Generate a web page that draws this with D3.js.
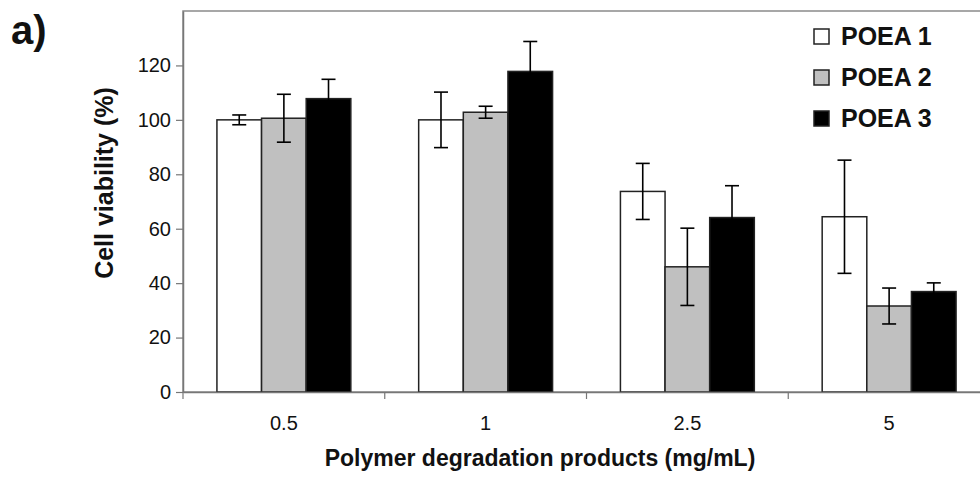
<!DOCTYPE html>
<html>
<head>
<meta charset="utf-8">
<script src="https://cdn.jsdelivr.net/npm/d3@7"></script>
<style>
  body { margin: 0; background: #fff; }
  svg { display: block; font-family: "Liberation Sans", Arial, Helvetica, sans-serif; }
</style>
</head>
<body>
<div id="chart"></div>
<script>
// data
const concentrations = ["0.5", "1", "2.5", "5"];
const seriesNames = ["POEA 1", "POEA 2", "POEA 3"];
const poea1 = [100, 100, 73.7, 64.4];
const poea1Err = [1.8, 10.2, 10.3, 20.8];
const poea2 = [100.6, 102.8, 46, 31.6];
const poea2Err = [8.8, 2.2, 14.2, 6.6];
const poea3 = [107.8, 117.8, 64.1, 36.9];
const poea3Err = [7.1, 11, 11.7, 3.2];
const yTicks = [0, 20, 40, 60, 80, 100, 120];

const fills = ["#ffffff", "#c0c0c0", "#000000"];
const values = [poea1, poea2, poea3];
const errors = [poea1Err, poea2Err, poea3Err];

const width = 980, height = 478;
const mLeft = 183, mRight = 990, mTop = 11, mBottom = 392;

const svg = d3.select("#chart").append("svg")
    .attr("width", width).attr("height", height)
    .attr("viewBox", `0 0 ${width} ${height}`);

const x0 = d3.scaleBand().domain(concentrations).range([mLeft, mRight]).padding(0);
const x1 = d3.scaleBand().domain(seriesNames).range([0, x0.bandwidth()])
    .paddingInner(0).paddingOuter(0.76);
const y = d3.scaleLinear().domain([0, 140]).range([mBottom, mTop]);

// frame (top / right edges)
svg.append("rect")
    .attr("x", mLeft).attr("y", mTop)
    .attr("width", mRight - mLeft).attr("height", mBottom - mTop)
    .attr("fill", "none").attr("stroke", "#8a8a8a").attr("stroke-width", 1.5);

// bars
const rows = [];
concentrations.forEach((c, i) => {
    seriesNames.forEach((s, j) => {
        rows.push({c: c, s: s, j: j, v: values[j][i], e: errors[j][i]});
    });
});

const g = svg.append("g");
g.selectAll("rect.bar")
    .data(rows)
    .enter().append("rect")
    .attr("class", "bar")
    .attr("x", d => x0(d.c) + x1(d.s))
    .attr("y", d => y(d.v))
    .attr("width", x1.bandwidth())
    .attr("height", d => y(0) - y(d.v))
    .attr("fill", d => fills[d.j])
    .attr("stroke", "#222")
    .attr("stroke-width", 1.5);

// error bars
const capW = 7;
const eb = g.selectAll("g.err")
    .data(rows)
    .enter().append("g")
    .attr("class", "err")
    .attr("transform", d => `translate(${x0(d.c) + x1(d.s) + x1.bandwidth() / 2},0)`)
    .attr("stroke", "#000").attr("stroke-width", 1.6);
eb.append("line").attr("x1", 0).attr("x2", 0)
    .attr("y1", d => y(d.v + d.e)).attr("y2", d => y(d.v - d.e));
eb.append("line").attr("x1", -capW).attr("x2", capW)
    .attr("y1", d => y(d.v + d.e)).attr("y2", d => y(d.v + d.e));
eb.append("line").attr("x1", -capW).attr("x2", capW)
    .attr("y1", d => y(d.v - d.e)).attr("y2", d => y(d.v - d.e));

// y axis
const yAxis = svg.append("g")
    .attr("transform", `translate(${mLeft},0)`)
    .call(d3.axisLeft(y).tickValues(yTicks).tickSize(7).tickPadding(5).tickSizeOuter(0));
yAxis.select(".domain").attr("stroke", "#777").attr("stroke-width", 1.5);
yAxis.selectAll(".tick line").attr("stroke", "#777").attr("stroke-width", 1.2);
yAxis.selectAll(".tick text").attr("font-size", 20).attr("fill", "#111")
    .attr("font-family", "'Liberation Sans', Arial, sans-serif");

// x axis: labels centred, ticks at band edges
const xAxis = svg.append("g")
    .attr("transform", `translate(0,${mBottom})`)
    .call(d3.axisBottom(x0).tickSize(0).tickPadding(24).tickSizeOuter(0));
xAxis.select(".domain").attr("stroke", "#777").attr("stroke-width", 1.5);
xAxis.selectAll(".tick text").attr("font-size", 20).attr("fill", "#111")
    .attr("font-family", "'Liberation Sans', Arial, sans-serif");
const edges = concentrations.map(c => x0(c)).concat([mRight]);
xAxis.selectAll("line.edge")
    .data(edges)
    .enter().append("line")
    .attr("class", "edge")
    .attr("x1", d => d).attr("x2", d => d)
    .attr("y1", 0).attr("y2", 7)
    .attr("stroke", "#777").attr("stroke-width", 1.2);

// axis titles
svg.append("text")
    .attr("x", 540).attr("y", 466)
    .attr("text-anchor", "middle")
    .attr("font-size", 23).attr("font-weight", "bold").attr("fill", "#111")
    .text("Polymer degradation products (mg/mL)");

svg.append("text")
    .attr("transform", "translate(113,183) rotate(-90)")
    .attr("text-anchor", "middle")
    .attr("font-size", 25).attr("font-weight", "bold").attr("fill", "#111")
    .text("Cell viability (%)");

// panel label
svg.append("text")
    .attr("x", 11).attr("y", 44)
    .attr("font-size", 40).attr("font-weight", "bold").attr("fill", "#111")
    .text("a)");

// legend
const legend = svg.append("g").attr("transform", "translate(814,29)");
const item = legend.selectAll("g")
    .data(seriesNames)
    .enter().append("g")
    .attr("transform", (d, i) => `translate(0,${i * 41})`);
item.append("rect")
    .attr("width", 15).attr("height", 15)
    .attr("fill", (d, i) => fills[i])
    .attr("stroke", "#222").attr("stroke-width", 1.5);
item.append("text")
    .attr("x", 27).attr("y", 15.5)
    .attr("font-size", 25).attr("font-weight", "bold").attr("fill", "#111")
    .text(d => d);
</script>
</body>
</html>
